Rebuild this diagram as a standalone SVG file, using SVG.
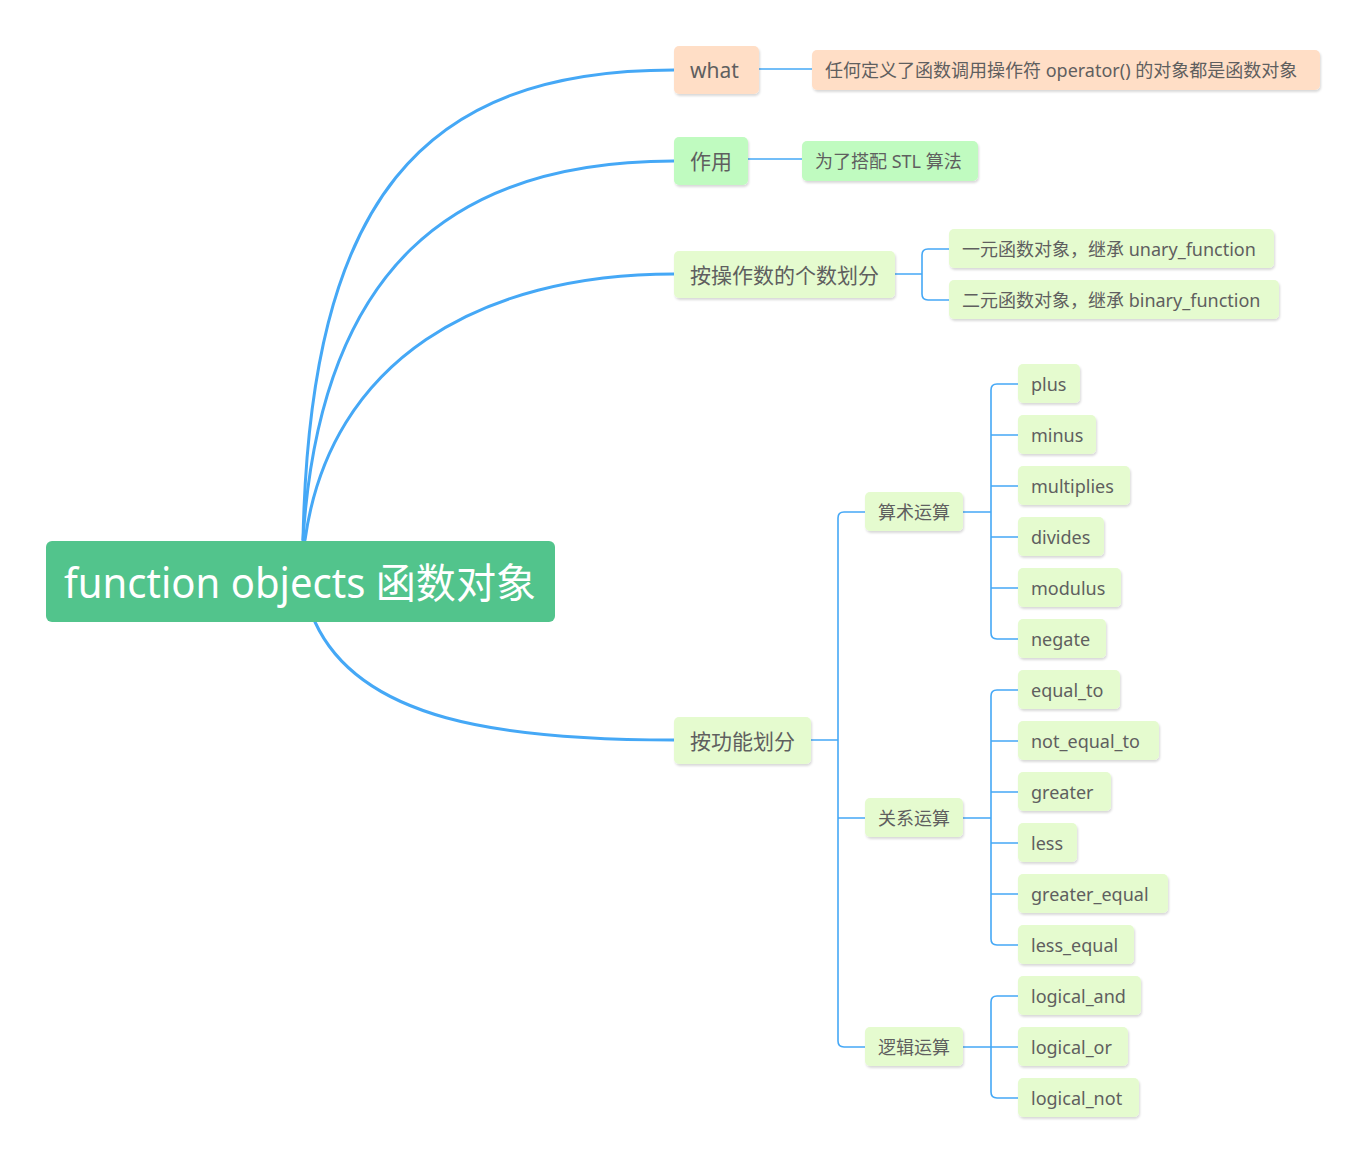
<svg xmlns="http://www.w3.org/2000/svg" width="1372" height="1168" viewBox="0 0 1372 1168">
<defs>
<filter id="sh" x="-10%" y="-20%" width="120%" height="150%">
<feDropShadow dx="1" dy="2" stdDeviation="1.2" flood-color="#000" flood-opacity="0.15"/>
</filter>
<style>
text{font-family:"Noto Sans","Noto Sans CJK SC",sans-serif;fill:#5f5f5f;dominant-baseline:central}
.main{fill:none;stroke:#45a8f6;stroke-width:3;stroke-linecap:round}
.sub{fill:none;stroke:#45a8f6;stroke-width:1.6}
.l1 rect{filter:url(#sh)}
.leaf rect{fill:#e5fbcf;filter:url(#sh)}
.leaf text{font-size:18px}
.mid rect{fill:#e5fbcf;filter:url(#sh)}
.mid text{font-size:18px}
</style>
</defs>
<rect width="1372" height="1168" fill="#fff"/>
<g id="connectors">
<path class="main" d="M303,540 C310,200 420,70 674,70"/>
<path class="main" d="M303,540 C320,270 450,161 674,161"/>
<path class="main" d="M305,540 C330,360 480,274 674,274"/>
<path class="main" d="M315,622 C360,720 500,740 674,740"/>
<path class="sub" d="M759,69 H812"/>
<path class="sub" d="M748,159 H802"/>
<path class="sub" d="M895,274 H922 M949,249 H928 Q922,249 922,255 V294 Q922,300 928,300 H949"/>
<path class="sub" d="M811,740 H838 M865,512 H844 Q838,512 838,518 V1041 Q838,1047 844,1047 H865 M838,818 H865"/>
<path class="sub" d="M963,512 H991 M1018,384 H997 Q991,384 991,390 V633 Q991,639 997,639 H1018 M991,435 H1018 M991,486 H1018 M991,537 H1018 M991,588 H1018"/>
<path class="sub" d="M963,818 H991 M1018,690 H997 Q991,690 991,696 V939 Q991,945 997,945 H1018 M991,741 H1018 M991,792 H1018 M991,843 H1018 M991,894 H1018"/>
<path class="sub" d="M963,1047 H991 M1018,996 H997 Q991,996 991,1002 V1092 Q991,1098 997,1098 H1018 M991,1047 H1018"/>
</g>
<g id="root">
<rect x="46" y="541" width="509" height="81" rx="6" fill="#52c48c"/>
<text x="64" y="582" textLength="472" lengthAdjust="spacingAndGlyphs" style="font-size:41px;fill:#fff">function objects 函数对象</text>
</g>
<g id="what" class="l1">
<rect x="674" y="46" width="85" height="48" rx="5" fill="#ffdec6"/>
<text x="690" y="70" font-size="21">what</text>
</g>
<g id="what-def" class="l1">
<rect x="812" y="50" width="508" height="40" rx="5" fill="#ffdec6"/>
<text x="825" y="70" font-size="18">任何定义了函数调用操作符 operator() 的对象都是函数对象</text>
</g>
<g id="use" class="l1">
<rect x="674" y="137" width="74" height="48" rx="5" fill="#c0fbc0"/>
<text x="690" y="161" font-size="21">作用</text>
</g>
<g id="use-def" class="l1">
<rect x="802" y="141" width="176" height="40" rx="5" fill="#c0fbc0"/>
<text x="815" y="161" font-size="18">为了搭配 STL 算法</text>
</g>
<g id="by-operands" class="l1">
<rect x="674" y="251" width="221" height="47" rx="5" fill="#e5fbcf"/>
<text x="690" y="275" font-size="21">按操作数的个数划分</text>
</g>
<g id="unary" class="leaf"><rect x="949" y="229" width="325" height="39" rx="5"/><text x="962" y="249">一元函数对象，继承 unary_function</text></g>
<g id="binary" class="leaf"><rect x="949" y="280" width="330" height="39" rx="5"/><text x="962" y="300">二元函数对象，继承 binary_function</text></g>
<g id="by-function" class="l1">
<rect x="674" y="717" width="137" height="47" rx="5" fill="#e5fbcf"/>
<text x="690" y="741" font-size="21">按功能划分</text>
</g>
<g id="arith" class="mid"><rect x="865" y="492" width="98" height="39" rx="5"/><text x="878" y="512">算术运算</text></g>
<g id="rel" class="mid"><rect x="865" y="798" width="98" height="39" rx="5"/><text x="878" y="818">关系运算</text></g>
<g id="logic" class="mid"><rect x="865" y="1027" width="98" height="39" rx="5"/><text x="878" y="1047">逻辑运算</text></g>
<g id="plus" class="leaf"><rect x="1018" y="364" width="62" height="39" rx="5"/><text x="1031" y="384">plus</text></g>
<g id="minus" class="leaf"><rect x="1018" y="415" width="78" height="39" rx="5"/><text x="1031" y="435">minus</text></g>
<g id="multiplies" class="leaf"><rect x="1018" y="466" width="112" height="39" rx="5"/><text x="1031" y="486">multiplies</text></g>
<g id="divides" class="leaf"><rect x="1018" y="517" width="86" height="39" rx="5"/><text x="1031" y="537">divides</text></g>
<g id="modulus" class="leaf"><rect x="1018" y="568" width="103" height="39" rx="5"/><text x="1031" y="588">modulus</text></g>
<g id="negate" class="leaf"><rect x="1018" y="619" width="88" height="39" rx="5"/><text x="1031" y="639">negate</text></g>
<g id="equal_to" class="leaf"><rect x="1018" y="670" width="102" height="39" rx="5"/><text x="1031" y="690">equal_to</text></g>
<g id="not_equal_to" class="leaf"><rect x="1018" y="721" width="141" height="39" rx="5"/><text x="1031" y="741">not_equal_to</text></g>
<g id="greater" class="leaf"><rect x="1018" y="772" width="93" height="39" rx="5"/><text x="1031" y="792">greater</text></g>
<g id="less" class="leaf"><rect x="1018" y="823" width="59" height="39" rx="5"/><text x="1031" y="843">less</text></g>
<g id="greater_equal" class="leaf"><rect x="1018" y="874" width="150" height="39" rx="5"/><text x="1031" y="894">greater_equal</text></g>
<g id="less_equal" class="leaf"><rect x="1018" y="925" width="116" height="39" rx="5"/><text x="1031" y="945">less_equal</text></g>
<g id="logical_and" class="leaf"><rect x="1018" y="976" width="123" height="39" rx="5"/><text x="1031" y="996">logical_and</text></g>
<g id="logical_or" class="leaf"><rect x="1018" y="1027" width="110" height="39" rx="5"/><text x="1031" y="1047">logical_or</text></g>
<g id="logical_not" class="leaf"><rect x="1018" y="1078" width="121" height="39" rx="5"/><text x="1031" y="1098">logical_not</text></g>
</svg>
